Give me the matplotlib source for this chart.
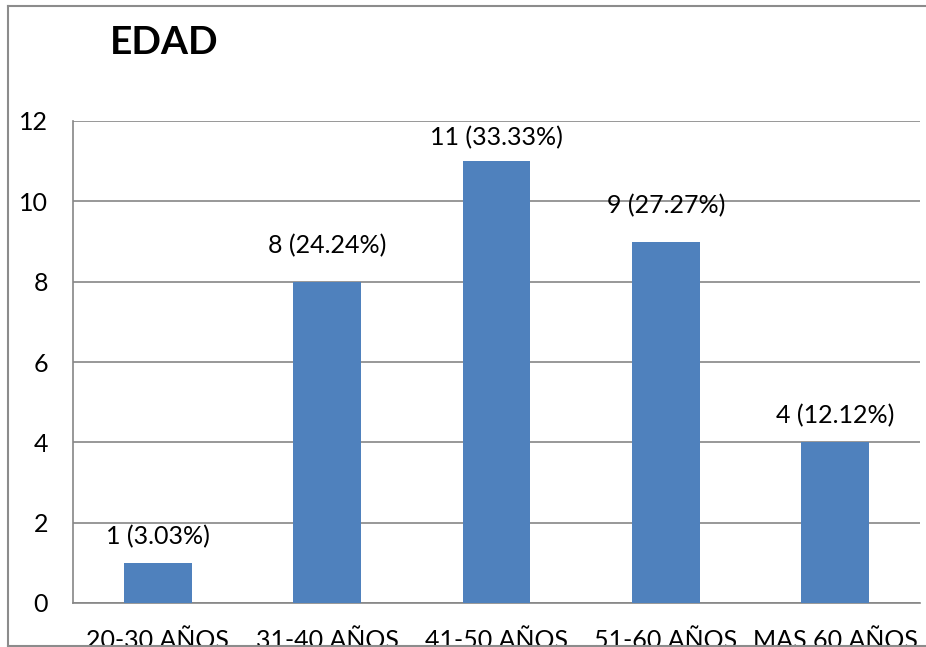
import matplotlib.pyplot as plt
from matplotlib.lines import Line2D

categories = ['20-30 AÑOS', '31-40 AÑOS', '41-50 AÑOS', '51-60 AÑOS', 'MAS 60 AÑOS']
counts = [1, 8, 11, 9, 4]
percents = ['3.03%', '24.24%', '33.33%', '27.27%', '12.12%']
yticks = [0, 2, 4, 6, 8, 10, 12]

plt.rcParams['font.family'] = ['Lato', 'DejaVu Sans']

W, H = 926, 647
fig = plt.figure(figsize=(W / 100, H / 100), dpi=100)
ax = fig.add_axes([73 / W, 1 - 603 / H, (920 - 73) / W, (603 - 121) / H])

bar_color = '#4f81bd'
grid_color = '#868686'

x = list(range(len(categories)))
ax.bar(x, counts, width=0.4, color=bar_color, zorder=3)
ax.set_xlim(-0.5, len(categories) - 0.5)
ax.set_ylim(0, 12)
ax.set_yticks(yticks)
ax.set_yticklabels([str(v) for v in yticks], fontsize=18)
ax.set_xticks(x)
ax.set_xticklabels(categories, fontsize=18)
ax.tick_params(axis='both', length=0, colors='black')
ax.tick_params(axis='y', pad=18)
ax.tick_params(axis='x', pad=19)
ax.grid(axis='y', color=grid_color, lw=1.2, zorder=0)

for s in ['top', 'right']:
    ax.spines[s].set_visible(False)
for s in ['left', 'bottom']:
    ax.spines[s].set_color(grid_color)
    ax.spines[s].set_linewidth(1.2)

# labels were placed by hand in the original, so the gap above each bar varies
label_gap = [19, 26, 17, 26, 19]
for xi, c, p, g in zip(x, counts, percents, label_gap):
    ax.annotate(f'{c} ({p})', xy=(xi, c), xytext=(0, g), textcoords='offset points',
                ha='center', va='center', fontsize=18, zorder=4)

# title
fig.text(110 / W, 1 - 43 / H, 'EDAD', fontsize=28, fontweight='bold', ha='left', va='center')

# outer chart frame (cropped)
frame = dict(color='#8c8c8c', lw=1.5, transform=fig.transFigure)
fig.add_artist(Line2D([8 / W, 8 / W], [0, 1 - 6 / H], **frame))
fig.add_artist(Line2D([8 / W, 1], [1 - 6 / H, 1 - 6 / H], **frame))
fig.add_artist(Line2D([8 / W, 1], [1.5 / H, 1.5 / H], **frame))

fig.savefig('out.png', dpi=100)
